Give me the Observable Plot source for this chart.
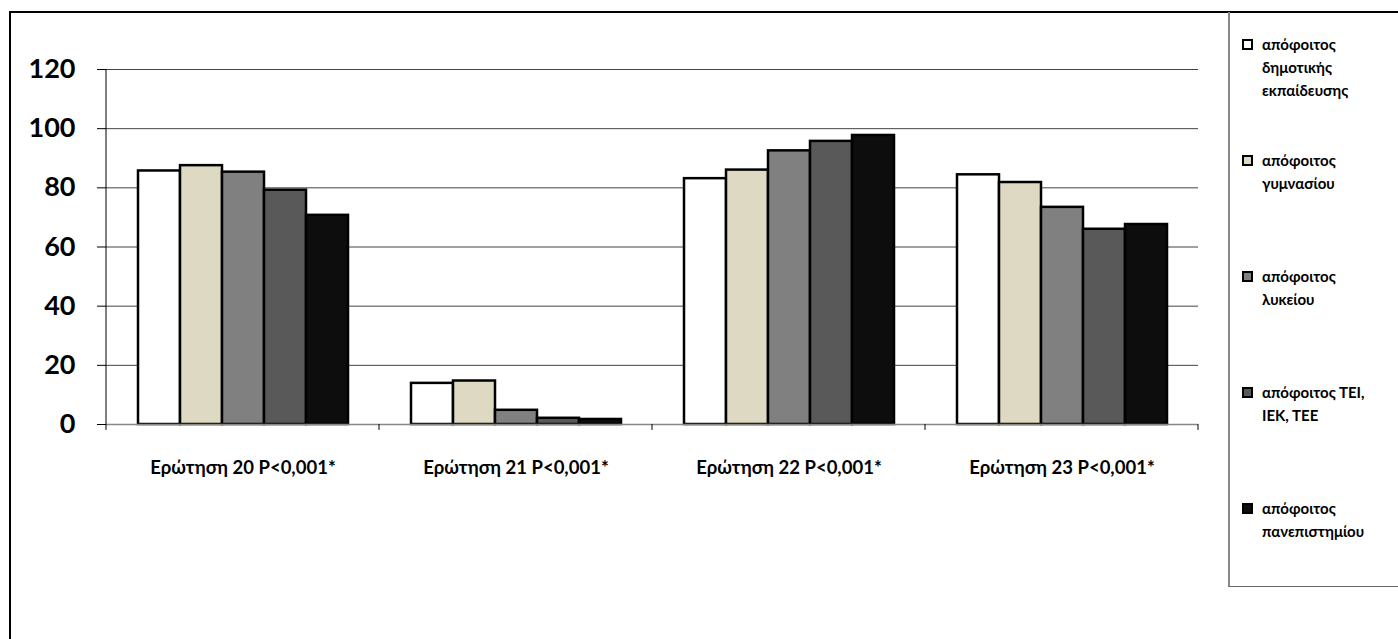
<!DOCTYPE html>
<html>
<head>
<meta charset="utf-8">
<script src="https://cdn.jsdelivr.net/npm/d3@7"></script>
<script src="https://cdn.jsdelivr.net/npm/@observablehq/plot@0.6"></script>
<style>
  html, body { margin: 0; padding: 0; background: #fff; }
  #wrap { position: relative; width: 1398px; height: 639px; overflow: hidden; font-family: Lato, "Open Sans", sans-serif; }
  #border { position: absolute; left: 9px; top: 11px; width: 1500px; height: 800px; border: 2px solid #000; box-sizing: border-box; }
  #chart { position: absolute; left: 0; top: 0; }
  #legend { position: absolute; left: 1228px; top: 12px; width: 200px; height: 575px; border-left: 2px solid #888; border-bottom: 1px solid #666; box-sizing: border-box; }
  .item { position: absolute; left: 12px; font-weight: bold; font-size: 15px; line-height: 23px; color: #000; }
  .item .sw { position: absolute; left: 0; top: 6px; width: 7px; height: 7px; border: 2px solid #000; }
  .item .tx { margin-left: 20px; }
</style>
</head>
<body>
<div id="wrap">
  <div id="border"></div>
  <div id="chart"></div>
  <div id="legend"></div>
</div>
<script>
const categories = ["Ερώτηση 20 P<0,001*", "Ερώτηση 21 P<0,001*", "Ερώτηση 22 P<0,001*", "Ερώτηση 23 P<0,001*"];
const groups = ["απόφοιτος δημοτικής εκπαίδευσης", "απόφοιτος γυμνασίου", "απόφοιτος λυκείου", "απόφοιτος ΤΕΙ, ΙΕΚ, ΤΕΕ", "απόφοιτος πανεπιστημίου"];
const legendLines = [
  ["απόφοιτος", "δημοτικής", "εκπαίδευσης"],
  ["απόφοιτος", "γυμνασίου"],
  ["απόφοιτος", "λυκείου"],
  ["απόφοιτος ΤΕΙ,", "ΙΕΚ, ΤΕΕ"],
  ["απόφοιτος", "πανεπιστημίου"]
];
const dimotiki     = [85.7, 13.9, 83.1, 84.4];
const gymnasio     = [87.5, 14.7, 86.0, 81.8];
const lykeio       = [85.3, 4.8, 92.5, 73.4];
const tei          = [79.2, 2.1, 95.7, 66.0];
const panepistimio = [70.7, 1.7, 97.7, 67.6];
const seriesValues = [dimotiki, gymnasio, lykeio, tei, panepistimio];
const yTicks = [0, 20, 40, 60, 80, 100, 120];
const colors = ["#ffffff", "#ddd9c3", "#808080", "#595959", "#0d0d0d"];

const table = [];
categories.forEach((c, ci) => groups.forEach((g, gi) => table.push({cat: c, group: g, value: seriesValues[gi][ci]})));

function axisFrame(index, scales, values, dimensions) {
  const {fx, y} = scales;
  const g = d3.create("svg:g").attr("stroke", "#000").attr("stroke-width", 1);
  const off = fx(categories[0]) < dimensions.marginLeft - 1 ? dimensions.marginLeft : 0;
  const xs = categories.map(c => fx(c) + off);
  xs.push(fx(categories[categories.length - 1]) + off + fx.bandwidth());
  const y0 = y(0), yb = y(-2);
  g.append("line").attr("x1", xs[0]).attr("x2", xs[0]).attr("y1", y(120)).attr("y2", yb);
  xs.slice(1).forEach(x => g.append("line").attr("x1", x).attr("x2", x).attr("y1", y0).attr("y2", yb));
  return g.node();
}

const chart = Plot.plot({
  width: 1228,
  height: 500,
  marginLeft: 105,
  marginRight: 28.5,
  marginTop: 69,
  marginBottom: 76,
  style: {fontFamily: "Lato, 'Open Sans', sans-serif", color: "#000", background: "transparent"},
  fx: {domain: categories, padding: 0, label: null},
  x: {domain: groups, paddingInner: 0, paddingOuter: 0.744, axis: null},
  y: {domain: [0, 120], label: null},
  color: {domain: groups, range: colors},
  marks: [
    Plot.ruleY(yTicks.filter(d => d > 0), {stroke: "#444", strokeWidth: 1}),
    Plot.barY(table, {fx: "cat", x: "group", y: "value", fill: "group", stroke: "#000", strokeWidth: 2.5}),
    Plot.ruleY([0], {stroke: "#888", strokeWidth: 1.5}),
    Plot.frame({facet: "super", stroke: "none", render: axisFrame}),
    Plot.axisY({ticks: yTicks, tickSize: 9, tickPadding: 22, fontSize: 27, fontWeight: "bold", label: null, stroke: "#000"}),
    Plot.axisFx({anchor: "bottom", tickSize: 0, tickPadding: 36, fontSize: 18.5, fontWeight: "bold", label: null})
  ]
});
document.getElementById("chart").appendChild(chart);

const legend = document.getElementById("legend");
groups.forEach((g, i) => {
  const item = document.createElement("div");
  item.className = "item";
  item.style.top = (21 + i * 116) + "px";
  const sw = document.createElement("div");
  sw.className = "sw";
  sw.style.background = colors[i];
  item.appendChild(sw);
  legendLines[i].forEach(line => {
    const t = document.createElement("div");
    t.className = "tx";
    t.textContent = line;
    item.appendChild(t);
  });
  legend.appendChild(item);
});
</script>
</body>
</html>
